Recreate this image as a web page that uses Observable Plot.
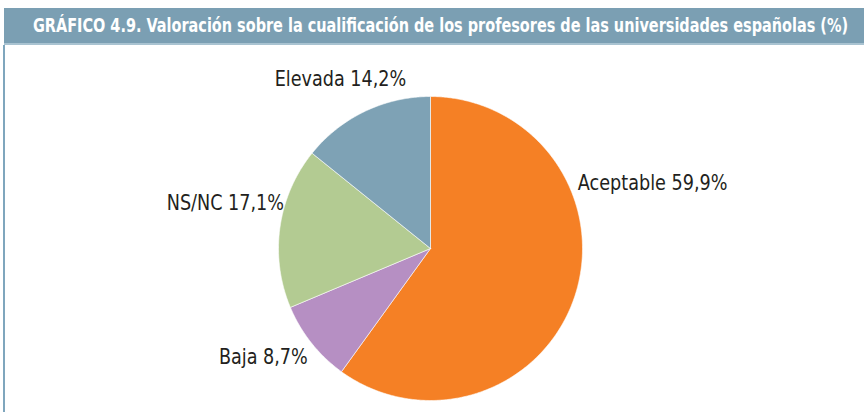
<!DOCTYPE html>
<html>
<head>
<meta charset="utf-8">
<script src="https://cdn.jsdelivr.net/npm/d3@7"></script>
<script src="https://cdn.jsdelivr.net/npm/@observablehq/plot@0.6"></script>
<style>
  html, body { margin: 0; padding: 0; background: #fff; }
  #wrap { position: relative; width: 864px; height: 412px; overflow: hidden; }
  #header { position: absolute; left: 4px; top: 8px; width: 860px; height: 35px; background: #7b9fb3;
            border-bottom: 2px solid #a9c3d1; }
  #title { position: absolute; left: 29px; top: 5px; white-space: nowrap; color: #fff;
           font-family: "Liberation Sans Narrow", "DejaVu Sans Condensed", "Liberation Sans", sans-serif;
           font-weight: bold; font-size: 20px; transform-origin: 0 50%; }
  #border { position: absolute; left: 3px; top: 45px; width: 1.5px; height: 367px; background: #7fa6bd; }
  #chart { position: absolute; left: 0; top: 45px; }
  #chart text { font-family: "Liberation Sans Narrow", "DejaVu Sans Condensed", "Liberation Sans", sans-serif; }
</style>
</head>
<body>
<div id="wrap">
  <div id="header"><span id="title">GRÁFICO 4.9. Valoración sobre la cualificación de los profesores de las universidades españolas (%)</span></div>
  <div id="border"></div>
  <div id="chart"></div>
</div>
<script>
// Data
const categories = ["Aceptable", "Baja", "NS/NC", "Elevada"];
const values = [59.9, 8.7, 17.1, 14.2];
const valueLabels = ["59,9%", "8,7%", "17,1%", "14,2%"];
const colors = ["#f58025", "#b68fc3", "#b3cb92", "#7ea2b5"];

// Layout (label nudges in px, relative to a point just outside the slice mid-angle)
const labelNudge = [[-3, -114], [1, 10], [10, -24], [44, -27]];
const R = 152;

// Build slice polygons with d3.pie (clockwise from 12 o'clock)
const pie = d3.pie().sort(null).value(d => d.value);
const arcs = pie(categories.map((c, i) => ({category: c, value: values[i]})));
const poly = [];
arcs.forEach(a => {
  const c = a.data.category;
  poly.push({category: c, x: 0, y: 0});
  const steps = Math.max(2, Math.ceil((a.endAngle - a.startAngle) / (Math.PI / 360)));
  for (let k = 0; k <= steps; k++) {
    const t = a.startAngle + (a.endAngle - a.startAngle) * k / steps;
    poly.push({category: c, x: Math.sin(t), y: Math.cos(t)});
  }
  poly.push({category: c, x: 0, y: 0});
});

const labels = arcs.map((a, i) => {
  const m = (a.startAngle + a.endAngle) / 2;
  const s = 1 + 6 / R;
  return {
    text: `${a.data.category} ${valueLabels[i]}`,
    x: s * Math.sin(m) + labelNudge[i][0] / R,
    y: s * Math.cos(m) - labelNudge[i][1] / R,
    side: Math.sin(m) > 0 ? "right" : "left"
  };
});

const chart = Plot.plot({
  width: 864,
  height: 367,
  margin: 0,
  x: {domain: [-1, 1], range: [430 - R, 430 + R], axis: null},
  y: {domain: [-1, 1], range: [203 + R, 203 - R], axis: null},
  color: {domain: categories, range: colors},
  marks: [
    Plot.line(poly, {x: "x", y: "y", z: "category", fill: "category", stroke: "#fff", strokeWidth: 0.6, curve: "linear-closed"}),
    Plot.text(labels.filter(d => d.side === "right"), {x: "x", y: "y", text: "text", textAnchor: "start", fontSize: 22, fill: "#231f20"}),
    Plot.text(labels.filter(d => d.side === "left"), {x: "x", y: "y", text: "text", textAnchor: "end", fontSize: 22, fill: "#231f20"})
  ]
});
document.getElementById("chart").appendChild(chart);

// Condense label glyphs slightly to mimic the narrow original typeface
chart.querySelectorAll("text").forEach(t => {
  const len = t.getComputedTextLength();
  t.setAttribute("textLength", (len * 0.89).toFixed(1));
  t.setAttribute("lengthAdjust", "spacingAndGlyphs");
});

// Fit title width
const title = document.getElementById("title");
const w = title.getBoundingClientRect().width;
title.style.transform = `scaleX(${815 / w})`;
</script>
</body>
</html>
